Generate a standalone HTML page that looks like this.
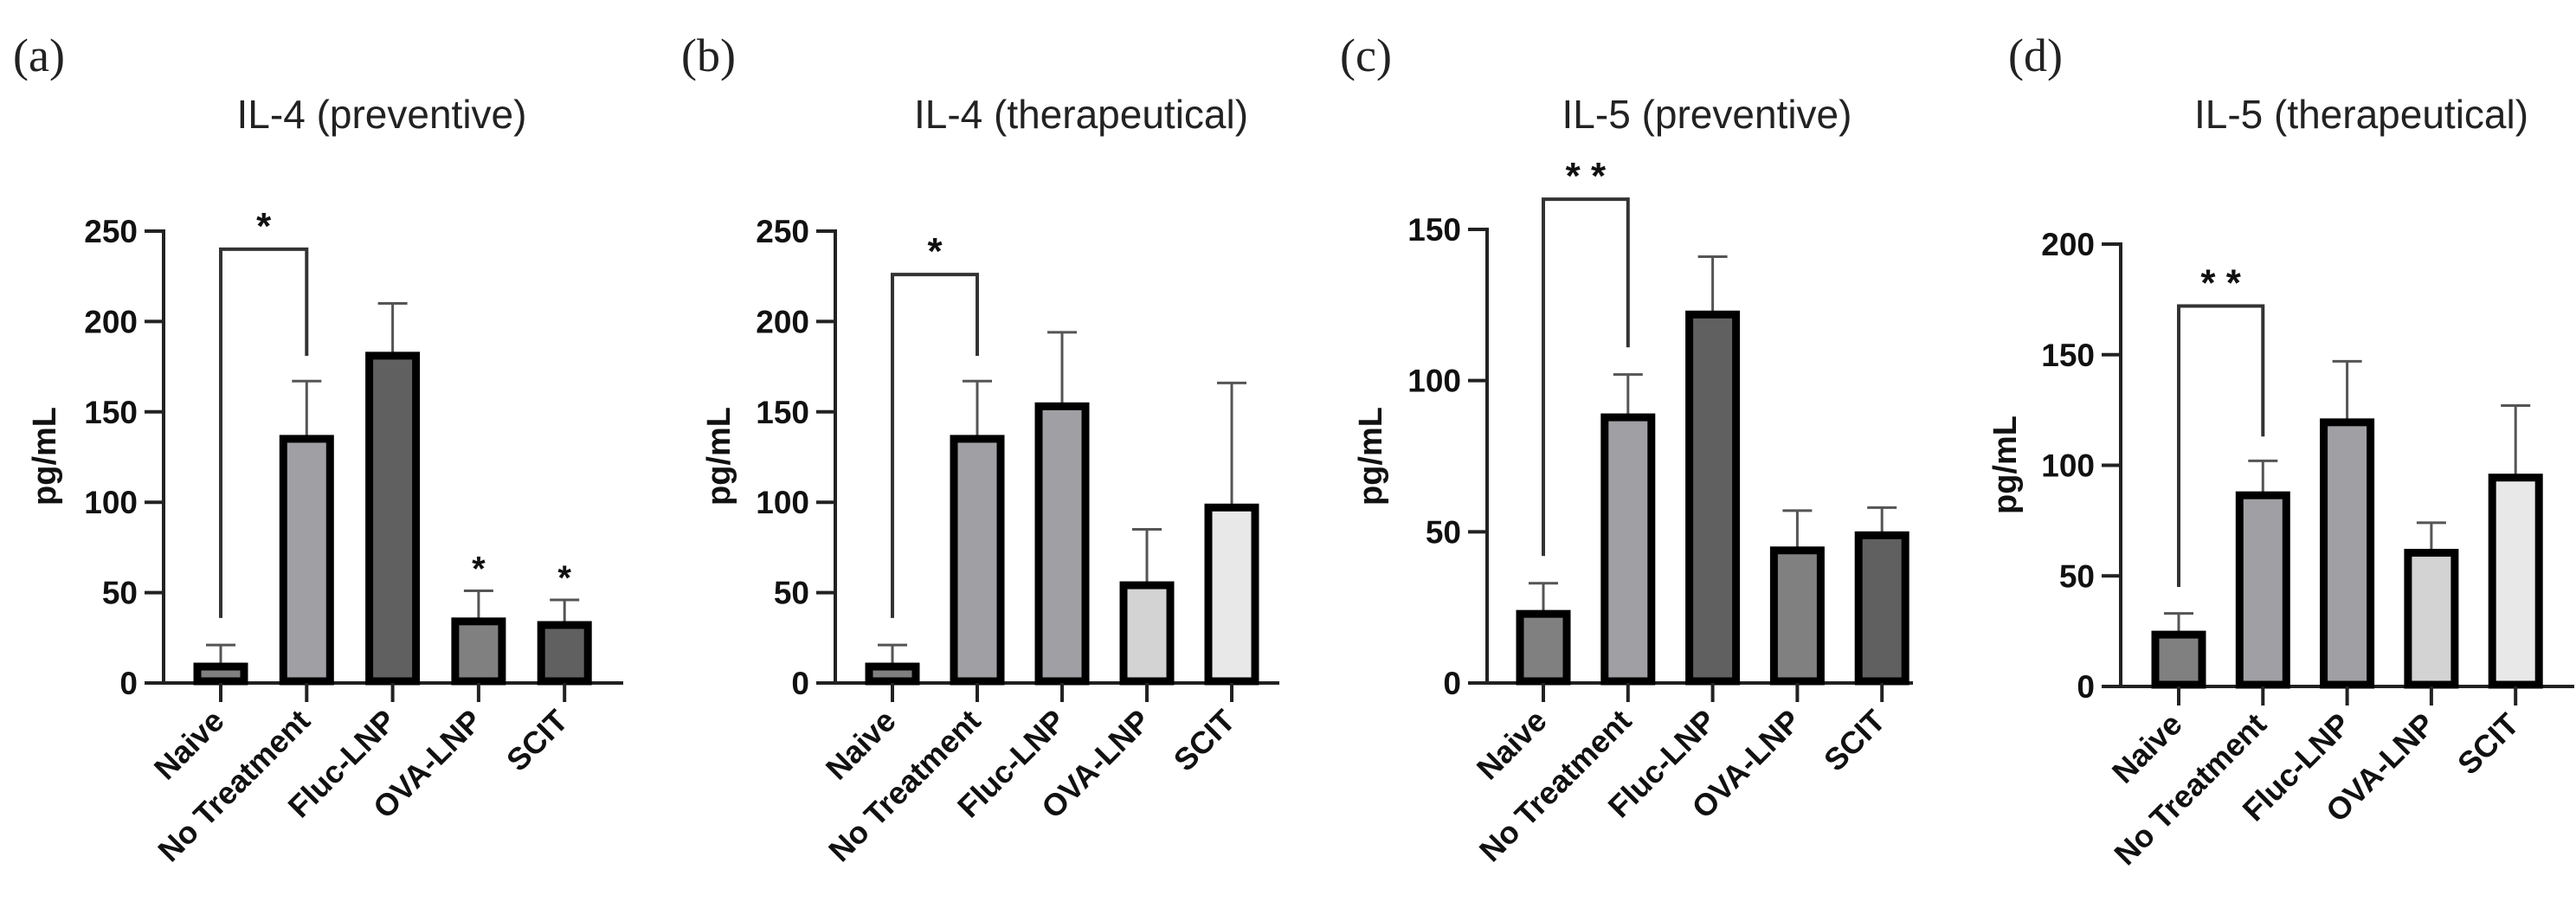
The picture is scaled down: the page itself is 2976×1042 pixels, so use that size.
<!DOCTYPE html>
<html><head><meta charset="utf-8"><style>
html,body{margin:0;padding:0;background:#fff;}
svg{display:block;}
</style></head><body>
<svg id="fig" width="2976" height="1042" viewBox="0 0 2976 1042" xmlns="http://www.w3.org/2000/svg" font-family="Liberation Sans, Arial, sans-serif"></svg>
<script>
const categories = ["Naive","No Treatment","Fluc-LNP","OVA-LNP","SCIT"];
const titles = ["IL-4 (preventive)","IL-4 (therapeutical)","IL-5 (preventive)","IL-5 (therapeutical)"];
const panelLetters = ["(a)","(b)","(c)","(d)"];
const yMaxes = [250,250,150,200];
const yTicks = [[0,50,100,150,200,250],[0,50,100,150,200,250],[0,50,100,150],[0,50,100,150,200]];
const meansA = [11,137,183,36,34];
const errA = [21,167,210,51,46];
const meansB = [11,137,155,56,99];
const errB = [21,167,194,85,166];
const meansC = [24,89,123,45,50];
const errC = [33,102,141,57,58];
const meansD = [25,88,121,62,96];
const errD = [33,102,147,74,127];
const bracketTop = [240,226,160,172];
const bracketLeft = [36,36,42,45];
const bracketRight = [181,181,111,113];
const bracketStars = ["*","*","* *","* *"];
const singleStarsA = ["","","","*","*"];

const fills = [
 ["#808080","#a0a0a4","#606060","#808080","#606060"],
 ["#808080","#a0a0a4","#a0a0a4","#d3d3d3","#e8e8e8"],
 ["#808080","#a0a0a4","#606060","#808080","#606060"],
 ["#808080","#a0a0a4","#a0a0a4","#d3d3d3","#e8e8e8"]
];
// layout (not data)
const L = [
 {ax:189, x0:255, step:99.3, y0:789, yTop:267, xEnd:720, ylab:51, ylabY:527, tx:441, lx:15},
 {ax:965, x0:1031, step:98, y0:789, yTop:267, xEnd:1478, ylab:830, ylabY:527, tx:1249, lx:787},
 {ax:1718, x0:1783, step:97.8, y0:789, yTop:265, xEnd:2210, ylab:1583, ylabY:527, tx:1972, lx:1548},
 {ax:2450, x0:2517, step:97.3, y0:793, yTop:282, xEnd:2974, ylab:2316, ylabY:537, tx:2728, lx:2320}
];
const allMeans=[meansA,meansB,meansC,meansD], allErr=[errA,errB,errC,errD];
const NS="http://www.w3.org/2000/svg", svg=document.getElementById('fig');
function mk(tag, attrs, parent){const e=document.createElementNS(NS,tag);for(const k in attrs)e.setAttribute(k,attrs[k]);(parent||svg).appendChild(e);return e;}

for(let p=0;p<4;p++){
  const l=L[p];
  const g=mk('g',{});
  
  
  const yS=v=>l.y0-(v/yMaxes[p])*(l.y0-l.yTop);
  const xS=i=>l.x0+i*l.step;
  let t=mk('text',{x:l.lx,y:82,'font-family':'Liberation Serif, serif','font-size':54,fill:'#222'},g);
  t.textContent=panelLetters[p];
  
  
  t=mk('text',{x:l.tx,y:148,'text-anchor':'middle','font-size':46,fill:'#222'},g);
  t.textContent=titles[p];
  
  
  t=mk('text',{x:l.ylab,y:l.ylabY,'text-anchor':'middle','font-size':38,'font-weight':'bold',fill:'#111',transform:`rotate(-90 ${l.ylab} ${l.ylabY})`,dy:13},g);
  t.textContent='pg/mL';
  
  
  let a=mk('line',{x1:l.ax,y1:l.yTop-2,x2:l.ax,y2:l.y0,stroke:'#222','stroke-width':4},g);
  
  
  a=mk('line',{x1:l.ax-22,y1:l.y0,x2:l.xEnd,y2:l.y0,stroke:'#222','stroke-width':4},g);
  
  
  yTicks[p].forEach(v=>{
    const y=yS(v);
    const tk=mk('line',{x1:l.ax-22,y1:y,x2:l.ax,y2:y,stroke:'#222','stroke-width':4},g);
    
    
    const tl=mk('text',{x:l.ax-30,y:y+13,'text-anchor':'end','font-size':37,'font-weight':'bold',fill:'#111'},g);
    tl.textContent=v;
    
    
  });
  const m=allMeans[p], e=allErr[p];
  categories.forEach((c,i)=>{
    const cx=xS(i), bw=62;
    const eb=mk('line',{x1:cx,y1:yS(m[i]),x2:cx,y2:yS(e[i]),stroke:'#555','stroke-width':3},g);
    
    
    const cap=mk('line',{x1:cx-17,y1:yS(e[i]),x2:cx+17,y2:yS(e[i]),stroke:'#555','stroke-width':3},g);
    
    
    const r=mk('rect',{x:cx-bw/2+4,y:yS(m[i])+4,width:bw-8,height:Math.max(0,l.y0-yS(m[i])-6),fill:fills[p][i],stroke:'#000','stroke-width':9},g);
    
    
    const xt=mk('line',{x1:cx,y1:l.y0,x2:cx,y2:l.y0+22,stroke:'#222','stroke-width':4},g);
    
    
    const lx=cx+6, ly=l.y0+46;
    const xl=mk('text',{x:lx,y:ly,'text-anchor':'end','font-size':36,'font-weight':'bold',fill:'#111',transform:`rotate(-45 ${lx} ${ly})`},g);
    xl.textContent=c;
    
    
    if(p===0 && singleStarsA[i]){
      const s=mk('text',{x:cx,y:yS(e[i])-12,'text-anchor':'middle','font-size':40,'font-weight':'bold',fill:'#111'},g);
      s.textContent=singleStarsA[i];
      
      
    }
  });
  const bx1=xS(0), bx2=xS(1), by=yS(bracketTop[p]);
  const br=mk('path',{d:`M${bx1} ${yS(bracketLeft[p])} V${by} H${bx2} V${yS(bracketRight[p])}`,fill:'none',stroke:'#333','stroke-width':4},g);
  
  
  const st=mk('text',{x:(bx1+bx2)/2,y:by-12,'text-anchor':'middle','font-size':44,'font-weight':'bold',fill:'#111'},g);
  st.textContent=bracketStars[p];
  
  
}
</script>
</body></html>
